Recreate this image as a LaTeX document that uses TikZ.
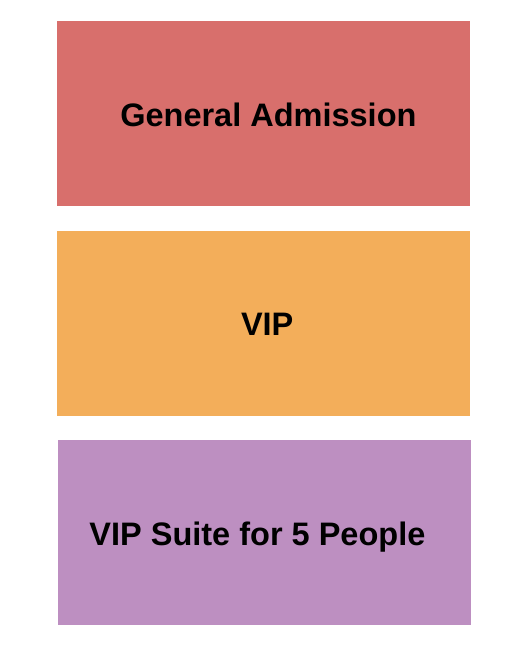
\documentclass[tikz,border=0pt]{standalone}
\usepackage{fontspec}
\setmainfont{Liberation Sans}
\definecolor{gared}{HTML}{D86F6C}
\definecolor{viporange}{HTML}{F3AE5A}
\definecolor{suitepurple}{HTML}{BD8FC1}
\tikzset{
  zone/.style={inner sep=0pt, outer sep=0pt, draw=none},
  zonelabel/.style={anchor=base, inner sep=0pt, font=\fontsize{32.5}{36}\selectfont\bfseries, text=black}
}
\begin{document}
\begin{tikzpicture}[x=1pt,y=-1pt]
\useasboundingbox[fill=white] (0,0) rectangle (525,650);
\fill[gared] (57,21) rectangle (469.5,206);
\fill[viporange] (57,231) rectangle (469.5,415.5);
\fill[suitepurple] (58.3,440) rectangle (470.7,624.5);
\node[zonelabel] (ga) at (268.4,126.5) {General Admission};
\node[zonelabel] (vip) at (267.2,335) {VIP};
\node[zonelabel] (suite) at (257.4,545.5) {VIP Suite for 5 People};
\end{tikzpicture}
\end{document}
